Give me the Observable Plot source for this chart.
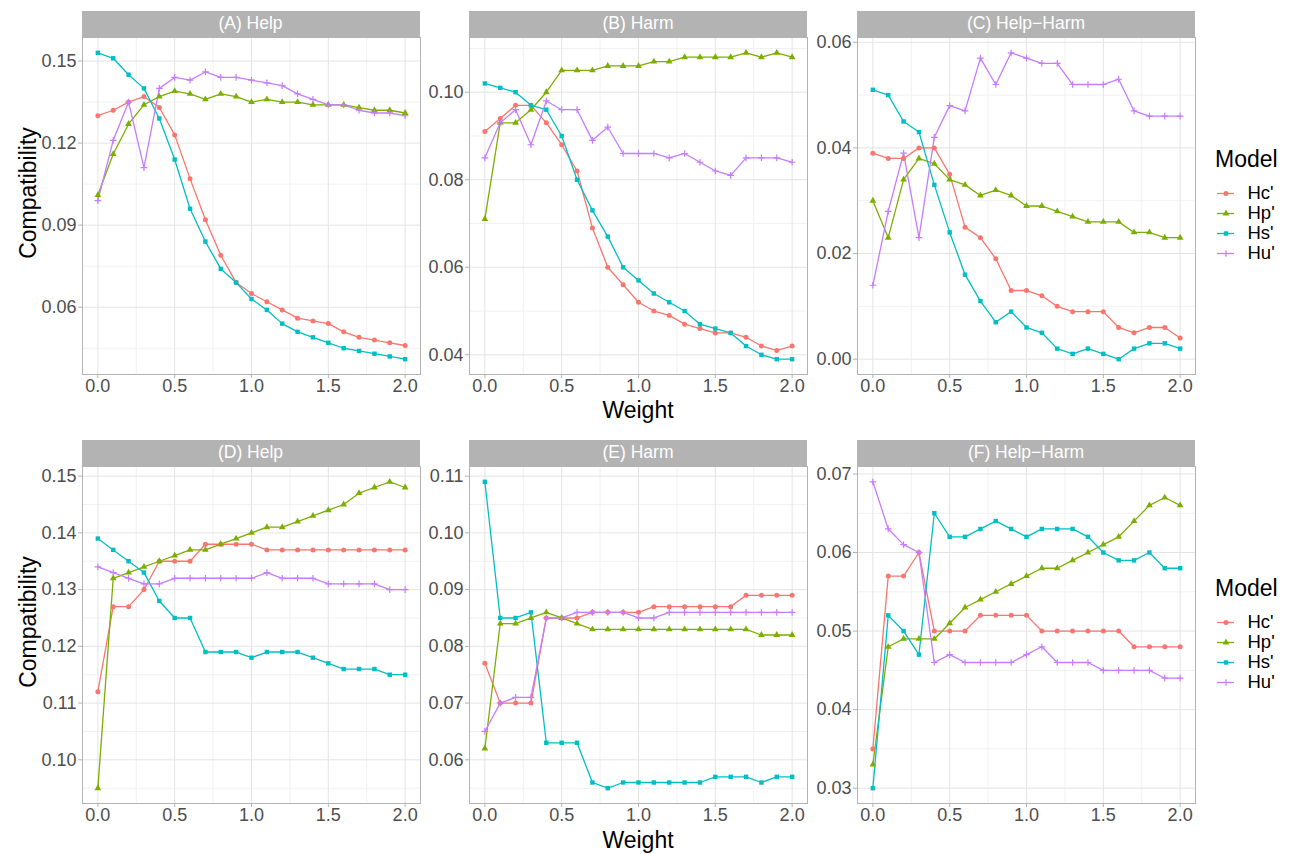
<!DOCTYPE html>
<html><head><meta charset="utf-8">
<script src="https://cdn.jsdelivr.net/npm/d3@7"></script>
<script src="https://cdn.jsdelivr.net/npm/@observablehq/plot@0.6"></script>
<style>
body{margin:0;background:#fff;}
#root{position:relative;width:1289px;height:854px;font-family:"Liberation Sans",Arial,Helvetica,sans-serif;overflow:hidden;background:#fff;}
.plotbox{position:absolute;}
.strip{position:absolute;background:#b3b3b3;color:#fff;font-size:17.5px;display:flex;align-items:center;justify-content:center;line-height:1;}
.title{position:absolute;color:#000;font-size:23px;line-height:1;white-space:nowrap;transform:translate(-50%,-50%);}
.ytitle{transform:translate(-50%,-50%) rotate(-90deg);}
.ltitle{position:absolute;color:#000;font-size:23px;line-height:1;white-space:nowrap;}
</style></head><body><div id="root"></div>
<script>
const weights = [0,0.1,0.2,0.3,0.4,0.5,0.6,0.7,0.8,0.9,1.0,1.1,1.2,1.3,1.4,1.5,1.6,1.7,1.8,1.9,2.0];
const models = ["Hc'","Hp'","Hs'","Hu'"];
const modelColors = ["#F8766D","#7CAE00","#00BFC4","#C77CFF"];
const modelSymbols = ["circle","triangle","square","plus"];
const panelLabels = ["(A) Help","(B) Harm","(C) Help\u2212Harm","(D) Help","(E) Harm","(F) Help\u2212Harm"];
const xTicks = [0,0.5,1.0,1.5,2.0];

// (A) Help
const A_Hc = [0.130,0.132,0.135,0.137,0.133,0.123,0.107,0.092,0.079,0.069,0.065,0.062,0.059,0.056,0.055,0.054,0.051,0.049,0.048,0.047,0.046];
const A_Hp = [0.101,0.116,0.127,0.134,0.137,0.139,0.138,0.136,0.138,0.137,0.135,0.136,0.135,0.135,0.134,0.134,0.134,0.133,0.132,0.132,0.131];
const A_Hs = [0.153,0.151,0.145,0.140,0.129,0.114,0.096,0.084,0.074,0.069,0.063,0.059,0.054,0.051,0.049,0.047,0.045,0.044,0.043,0.042,0.041];
const A_Hu = [0.099,0.121,0.135,0.111,0.140,0.144,0.143,0.146,0.144,0.144,0.143,0.142,0.141,0.138,0.136,0.134,0.134,0.132,0.131,0.131,0.130];
const A_yTicks = [0.06,0.09,0.12,0.15];
// (B) Harm
const B_Hc = [0.091,0.094,0.097,0.097,0.093,0.088,0.082,0.069,0.060,0.056,0.052,0.050,0.049,0.047,0.046,0.045,0.045,0.044,0.042,0.041,0.042];
const B_Hp = [0.071,0.093,0.093,0.096,0.100,0.105,0.105,0.105,0.106,0.106,0.106,0.107,0.107,0.108,0.108,0.108,0.108,0.109,0.108,0.109,0.108];
const B_Hs = [0.102,0.101,0.100,0.097,0.096,0.090,0.080,0.073,0.067,0.060,0.057,0.054,0.052,0.050,0.047,0.046,0.045,0.042,0.040,0.039,0.039];
const B_Hu = [0.085,0.093,0.096,0.088,0.098,0.096,0.096,0.089,0.092,0.086,0.086,0.086,0.085,0.086,0.084,0.082,0.081,0.085,0.085,0.085,0.084];
const B_yTicks = [0.04,0.06,0.08,0.10];
// (C) Help-Harm
const C_Hc = [0.039,0.038,0.038,0.040,0.040,0.035,0.025,0.023,0.019,0.013,0.013,0.012,0.010,0.009,0.009,0.009,0.006,0.005,0.006,0.006,0.004];
const C_Hp = [0.030,0.023,0.034,0.038,0.037,0.034,0.033,0.031,0.032,0.031,0.029,0.029,0.028,0.027,0.026,0.026,0.026,0.024,0.024,0.023,0.023];
const C_Hs = [0.051,0.050,0.045,0.043,0.033,0.024,0.016,0.011,0.007,0.009,0.006,0.005,0.002,0.001,0.002,0.001,0.000,0.002,0.003,0.003,0.002];
const C_Hu = [0.014,0.028,0.039,0.023,0.042,0.048,0.047,0.057,0.052,0.058,0.057,0.056,0.056,0.052,0.052,0.052,0.053,0.047,0.046,0.046,0.046];
const C_yTicks = [0.00,0.02,0.04,0.06];
// (D) Help
const D_Hc = [0.112,0.127,0.127,0.130,0.135,0.135,0.135,0.138,0.138,0.138,0.138,0.137,0.137,0.137,0.137,0.137,0.137,0.137,0.137,0.137,0.137];
const D_Hp = [0.095,0.132,0.133,0.134,0.135,0.136,0.137,0.137,0.138,0.139,0.140,0.141,0.141,0.142,0.143,0.144,0.145,0.147,0.148,0.149,0.148];
const D_Hs = [0.139,0.137,0.135,0.133,0.128,0.125,0.125,0.119,0.119,0.119,0.118,0.119,0.119,0.119,0.118,0.117,0.116,0.116,0.116,0.115,0.115];
const D_Hu = [0.134,0.133,0.132,0.131,0.131,0.132,0.132,0.132,0.132,0.132,0.132,0.133,0.132,0.132,0.132,0.131,0.131,0.131,0.131,0.130,0.130];
const D_yTicks = [0.10,0.11,0.12,0.13,0.14,0.15];
// (E) Harm
const E_Hc = [0.077,0.070,0.070,0.070,0.085,0.085,0.085,0.086,0.086,0.086,0.086,0.087,0.087,0.087,0.087,0.087,0.087,0.089,0.089,0.089,0.089];
const E_Hp = [0.062,0.084,0.084,0.085,0.086,0.085,0.084,0.083,0.083,0.083,0.083,0.083,0.083,0.083,0.083,0.083,0.083,0.083,0.082,0.082,0.082];
const E_Hs = [0.109,0.085,0.085,0.086,0.063,0.063,0.063,0.056,0.055,0.056,0.056,0.056,0.056,0.056,0.056,0.057,0.057,0.057,0.056,0.057,0.057];
const E_Hu = [0.065,0.070,0.071,0.071,0.085,0.085,0.086,0.086,0.086,0.086,0.085,0.085,0.086,0.086,0.086,0.086,0.086,0.086,0.086,0.086,0.086];
const E_yTicks = [0.06,0.07,0.08,0.09,0.10,0.11];
// (F) Help-Harm
const F_Hc = [0.035,0.057,0.057,0.060,0.050,0.050,0.050,0.052,0.052,0.052,0.052,0.050,0.050,0.050,0.050,0.050,0.050,0.048,0.048,0.048,0.048];
const F_Hp = [0.033,0.048,0.049,0.049,0.049,0.051,0.053,0.054,0.055,0.056,0.057,0.058,0.058,0.059,0.060,0.061,0.062,0.064,0.066,0.067,0.066];
const F_Hs = [0.030,0.052,0.050,0.047,0.065,0.062,0.062,0.063,0.064,0.063,0.062,0.063,0.063,0.063,0.062,0.060,0.059,0.059,0.060,0.058,0.058];
const F_Hu = [0.069,0.063,0.061,0.060,0.046,0.047,0.046,0.046,0.046,0.046,0.047,0.048,0.046,0.046,0.046,0.045,0.045,0.045,0.045,0.044,0.044];
const F_yTicks = [0.03,0.04,0.05,0.06,0.07];

const panelSeries = [
  [A_Hc,A_Hp,A_Hs,A_Hu],[B_Hc,B_Hp,B_Hs,B_Hu],[C_Hc,C_Hp,C_Hs,C_Hu],
  [D_Hc,D_Hp,D_Hs,D_Hu],[E_Hc,E_Hp,E_Hs,E_Hu],[F_Hc,F_Hp,F_Hs,F_Hu]
];
const panelYTicks = [A_yTicks,B_yTicks,C_yTicks,D_yTicks,E_yTicks,F_yTicks];

// layout
const colLeft = [81.5, 469, 857];
const rowTop = [37, 466];
const PW = 338, PH = 337, STRIP = 26;
const ML = 60, MR = 4, MT = 12, MB = 32;
const FONT = '"Liberation Sans", Arial, Helvetica, sans-serif';
const PLUS_R = 2.3;
const root = document.getElementById("root");

function add(el, css) { Object.assign(el.style, css); root.appendChild(el); return el; }

function drawPanel(k) {
  const row = Math.floor(k / 3), col = k % 3;
  const series = panelSeries[k];
  const data = [];
  series.forEach((vals, i) => vals.forEach((v, j) => data.push({w: weights[j], value: v, model: models[i]})));
  const ext = d3.extent(data, d => d.value);
  const pad = (ext[1] - ext[0]) * 0.05;
  const yDomain = [ext[0] - pad, ext[1] + pad];
  const yTicks = panelYTicks[k];
  const ys = yTicks[1] - yTicks[0];
  const yMinor = [yTicks[0] - ys / 2, ...yTicks.map(t => t + ys / 2)].filter(v => v >= yDomain[0] && v <= yDomain[1]);
  const xs = xTicks[1] - xTicks[0];
  const xMinor = xTicks.slice(0, -1).map(t => t + xs / 2);
  const filled = data.filter(d => d.model !== "Hu'");
  const plus = data.filter(d => d.model === "Hu'");
  const svg = Plot.plot({
    width: ML + PW + MR, height: MT + PH + MB,
    marginLeft: ML, marginRight: MR, marginTop: MT, marginBottom: MB,
    style: {fontFamily: FONT, fontSize: "18px", background: "transparent", overflow: "visible"},
    x: {domain: [-0.1, 2.1]},
    y: {domain: yDomain},
    color: {domain: models, range: modelColors},
    symbol: {domain: models, range: modelSymbols},
    marks: [
      Plot.ruleX(xMinor, {stroke: "#f1f1f1", strokeWidth: 1}),
      Plot.ruleY(yMinor, {stroke: "#f1f1f1", strokeWidth: 1}),
      Plot.ruleX(xTicks, {stroke: "#e4e4e4", strokeWidth: 1}),
      Plot.ruleY(yTicks, {stroke: "#e4e4e4", strokeWidth: 1}),
      Plot.frame({stroke: "#b3b3b3", strokeWidth: 1}),
      Plot.axisX({ticks: xTicks, tickFormat: d3.format(".1f"), tickSize: 4, tickPadding: 1, stroke: "#b3b3b3", fill: "#4d4d4d", label: null, fontSize: 18}),
      Plot.axisY({ticks: yTicks, tickFormat: d3.format(".2f"), tickSize: 4, tickPadding: 2, stroke: "#b3b3b3", fill: "#4d4d4d", label: null, fontSize: 18}),
      Plot.line(data, {x: "w", y: "value", stroke: "model", z: "model", strokeWidth: 1.3}),
      Plot.dot(filled, {x: "w", y: "value", fill: "model", symbol: "model", r: 2.5}),
      Plot.dot(plus, {x: "w", y: "value", stroke: "model", symbol: "model", r: PLUS_R, strokeWidth: 1.2})
    ]
  });
  const box = document.createElement("div");
  box.className = "plotbox";
  box.appendChild(svg);
  add(box, {left: (colLeft[col] - ML) + "px", top: (rowTop[row] - MT) + "px"});
  const strip = document.createElement("div");
  strip.className = "strip";
  strip.textContent = panelLabels[k];
  add(strip, {left: colLeft[col] + "px", top: (rowTop[row] - STRIP) + "px", width: PW + "px", height: STRIP + "px"});
}

function drawLegend(top) {
  const t = document.createElement("div");
  t.className = "ltitle";
  t.textContent = "Model";
  add(t, {left: "1215px", top: (top - 42) + "px"});
  const svg = Plot.plot({
    width: 75, height: 84, margin: 0,
    style: {fontFamily: FONT, background: "transparent", overflow: "visible"},
    x: {domain: [0, 75], range: [0, 75], axis: null},
    y: {type: "point", domain: models, range: [10.7, 71.7], padding: 0, axis: null},
    color: {domain: models, range: modelColors},
    symbol: {domain: models, range: modelSymbols},
    marks: [
      Plot.ruleY(models, {y: d => d, x1: 5, x2: 22, stroke: d => d, strokeWidth: 1.3}),
      Plot.dot(models.filter(m => m !== "Hu'"), {x: 13.5, y: d => d, fill: d => d, symbol: d => d, r: 2.5}),
      Plot.dot(models.filter(m => m === "Hu'"), {x: 13.5, y: d => d, stroke: d => d, symbol: d => d, r: PLUS_R, strokeWidth: 1.2}),
      Plot.text(models, {x: 35, y: d => d, text: d => d, textAnchor: "start", fill: "#000", fontSize: 18.5})
    ]
  });
  const box = document.createElement("div");
  box.className = "plotbox";
  box.appendChild(svg);
  add(box, {left: "1212px", top: (top - 8) + "px"});
}

for (let k = 0; k < 6; k++) drawPanel(k);

[[192.5, 410], [621.5, 840]].forEach(([yc, xt]) => {
  const yt = document.createElement("div");
  yt.className = "title ytitle";
  yt.textContent = "Compatibility";
  add(yt, {left: "28px", top: yc + "px"});
  const wt = document.createElement("div");
  wt.className = "title";
  wt.textContent = "Weight";
  add(wt, {left: "638px", top: xt + "px"});
});

drawLegend(190);
drawLegend(619);
</script></body></html>
